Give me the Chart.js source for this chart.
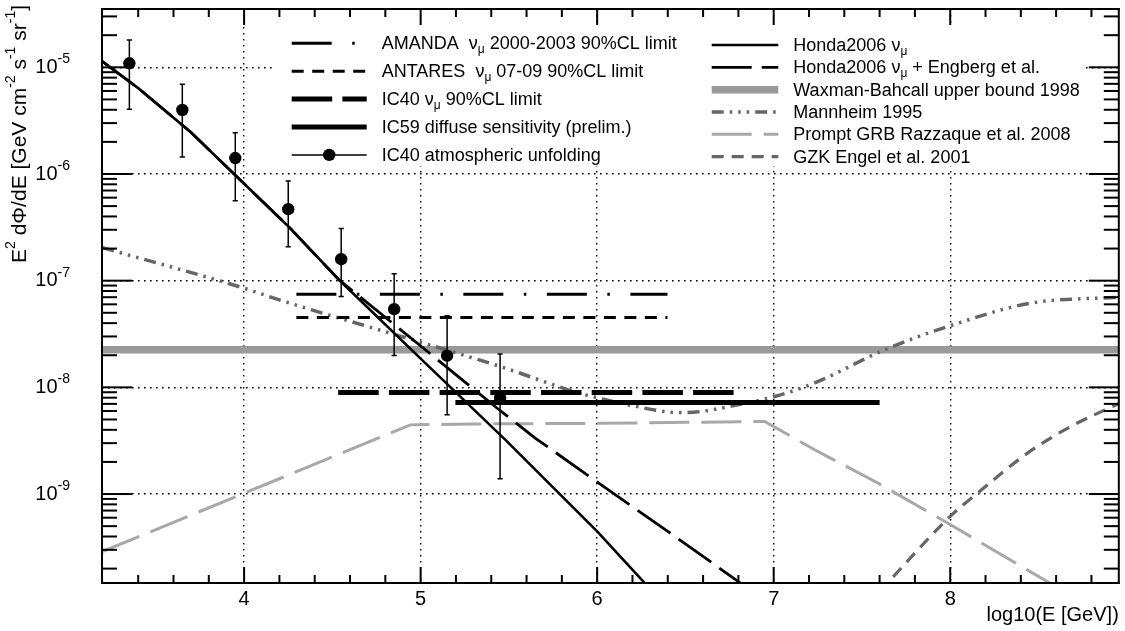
<!DOCTYPE html>
<html>
<head>
<meta charset="utf-8">
<script src="https://cdn.jsdelivr.net/npm/chart.js@4.4.1/dist/chart.umd.min.js"></script>
<style>
  html, body { margin: 0; padding: 0; background: #fff; }
  #wrap { width: 1125px; height: 631px; position: relative; }
</style>
</head>
<body>
<div id="wrap"><canvas id="c"></canvas></div>
<script>
// ---- axis ranges (log10 E on x, E^2 dPhi/dE on y) ----
const xRange = [3.195, 8.955];
const yRange = [1.466e-10, 3.52e-5];
const xTickValues = Array.from({ length: 29 }, (_, i) => (16 + i) / 5); // 3.2 ... 8.8
const yDecadeLabels = [-5, -6, -7, -8, -9];
const ySignificands = [1, 2, 3, 4, 5, 6, 7, 8, 9];

// ---- IC40 atmospheric unfolding ----
const unfoldLogE = [3.35, 3.65, 3.95, 4.25, 4.55, 4.85, 5.15, 5.45];
const unfoldFlux = [1.09e-5, 3.98e-6, 1.41e-6, 4.68e-7, 1.59e-7, 5.41e-8, 1.98e-8, 7.93e-9];
const unfoldHigh = [1.80e-5, 6.93e-6, 2.44e-6, 8.6e-7, 3.08e-7, 1.16e-7, 4.68e-8, 2.05e-8];
const unfoldLow  = [4.05e-6, 1.44e-6, 5.6e-7, 2.08e-7, 7.1e-8, 1.99e-8, 5.53e-9, 1.39e-9];

// ---- atmospheric models ----
const hondaLogE = [3.197, 3.4, 3.7, 3.943, 4.25, 4.537, 5.0, 5.479, 6.0, 6.3];
const hondaFlux = [1.135e-5, 6.38e-6, 2.45e-6, 1.0e-6, 3.24e-7, 1.02e-7, 1.86e-8, 3.24e-9, 4.47e-10, 1.29e-10];
const engbergLogE = [3.197, 3.4, 3.7, 3.943, 4.25, 4.537, 5.027, 5.432, 5.649, 6.007, 6.4, 6.798, 6.85];
const engbergFlux = [1.135e-5, 6.38e-6, 2.45e-6, 1.0e-6, 3.24e-7, 1.02e-7, 2.25e-8, 6.40e-9, 3.35e-9, 1.27e-9, 4.47e-10, 1.52e-10, 1.32e-10];

// ---- astrophysical models ----
const waxmanLogE = [3.0, 9.2];
const waxmanFlux = [2.25e-8, 2.25e-8];
const mannheimLogE = [3.197, 4.0, 4.2, 5.0, 5.45, 5.9, 6.007, 6.194, 6.459, 6.572, 6.798, 7.006, 7.232, 7.628, 8.0, 8.455, 8.96];
const mannheimFlux = [2.04e-7, 8.5e-8, 6.6e-8, 2.65e-8, 1.57e-8, 8.8e-9, 7.94e-9, 6.76e-9, 5.81e-9, 5.9e-9, 6.87e-9, 8.2e-9, 1.1e-8, 2.25e-8, 3.78e-8, 6.15e-8, 7.0e-8];
const grbLogE = [3.197, 4.942, 5.289, 6.007, 6.949, 7.232, 7.59, 7.985, 8.532, 8.6];
const grbFlux = [2.89e-10, 4.45e-9, 4.54e-9, 4.60e-9, 4.79e-9, 2.60e-9, 1.27e-9, 5.35e-10, 1.57e-10, 1.35e-10];
const gzkLogE = [7.6, 8.0, 8.155, 8.438, 8.683, 8.96];
const gzkFlux = [1.22e-10, 6.17e-10, 1.02e-9, 2.42e-9, 4.30e-9, 7.11e-9];

// ---- flux limits / sensitivities: [logE from, logE to] and level ----
const amandaRange = [4.296, 6.398];  const amandaLimit = 7.48e-8;
const antaresRange = [4.296, 6.398]; const antaresLimit = 4.51e-8;
const ic40Range = [4.533, 6.83];     const ic40Limit = 8.95e-9;
const ic59Range = [5.197, 7.6];      const ic59Sens = 7.2e-9;

const FONT = '"Liberation Sans", Arial, Helvetica, sans-serif';

const pts = (xs, ys) => xs.map((x, i) => ({ x, y: ys[i] }));
const flat = (r, v) => [{ x: r[0], y: v }, { x: r[1], y: v }];
const isDecade = v => Math.abs(Math.log10(v) - Math.round(Math.log10(v))) < 1e-6;
const isInt = v => Math.abs(v - Math.round(v)) < 1e-6;

const yTickValues = [];
for (let e = -11; e <= -4; e++) {
  ySignificands.forEach(s => {
    const v = s * Math.pow(10, e);
    if (v > yRange[0] && v < yRange[1]) yTickValues.push(v);
  });
}

// error bars: one segment per point, separated by gaps
const errorBarData = [];
unfoldLogE.forEach((x, i) => {
  errorBarData.push({ x, y: unfoldLow[i] }, { x, y: unfoldHigh[i] }, { x, y: null });
});

const line = (label, data, color, width, dash, order, extra) => Object.assign({
  label, data, showLine: true, borderColor: color, backgroundColor: color,
  borderWidth: width, borderDash: dash, pointRadius: 0, order, clip: 0, spanGaps: false
}, extra || {});

const styles = {
  amanda:   { color: '#000', width: 3,   dash: [40, 20.5, 2.5, 20.5] },
  antares:  { color: '#000', width: 3,   dash: [12, 8.5] },
  ic40:     { color: '#000', width: 5,   dash: [40.5, 10.2] },
  ic59:     { color: '#000', width: 5,   dash: [] },
  unfold:   { color: '#000', width: 1.5, dash: [] },
  honda:    { color: '#000', width: 2.6, dash: [] },
  engberg:  { color: '#000', width: 2.8, dash: [40, 10] },
  waxman:   { color: '#999', width: 7.5, dash: [] },
  mannheim: { color: '#666', width: 3.5, dash: [12, 6, 2.5, 6, 2.5, 6, 2.5, 6] },
  grb:      { color: '#a8a8a8', width: 3, dash: [40, 12] },
  gzk:      { color: '#666', width: 3.2, dash: [12, 8] }
};

const datasets = [
  { label: 'IC40 atmospheric unfolding', data: pts(unfoldLogE, unfoldFlux), showLine: false,
    pointRadius: 6.2, pointStyle: 'circle', pointBackgroundColor: '#000', pointBorderColor: '#000',
    pointBorderWidth: 0, order: 0, clip: 0 },
  line('IC40 unfolding errors', errorBarData, '#000', 1.5, [], 1,
    { pointRadius: 2.6, pointStyle: 'line', pointBorderColor: '#000', pointBorderWidth: 1.5 }),
  line('Honda2006', pts(hondaLogE, hondaFlux), styles.honda.color, styles.honda.width, styles.honda.dash, 2),
  line('Honda2006 + Engberg', pts(engbergLogE, engbergFlux), styles.engberg.color, styles.engberg.width, styles.engberg.dash, 3),
  line('IC59', flat(ic59Range, ic59Sens), styles.ic59.color, styles.ic59.width, styles.ic59.dash, 4),
  line('IC40', flat(ic40Range, ic40Limit), styles.ic40.color, styles.ic40.width, styles.ic40.dash, 5),
  line('ANTARES', flat(antaresRange, antaresLimit), styles.antares.color, styles.antares.width, styles.antares.dash, 6),
  line('AMANDA', flat(amandaRange, amandaLimit), styles.amanda.color, styles.amanda.width, styles.amanda.dash, 7),
  line('Mannheim 1995', pts(mannheimLogE, mannheimFlux), styles.mannheim.color, styles.mannheim.width, styles.mannheim.dash, 8,
    { cubicInterpolationMode: 'monotone' }),
  line('GZK', pts(gzkLogE, gzkFlux), styles.gzk.color, styles.gzk.width, styles.gzk.dash, 9,
    { cubicInterpolationMode: 'monotone' }),
  line('GRB', pts(grbLogE, grbFlux), styles.grb.color, styles.grb.width, styles.grb.dash, 10),
  line('Waxman-Bahcall', pts(waxmanLogE, waxmanFlux), styles.waxman.color, styles.waxman.width, styles.waxman.dash, 11)
];

// text with _{sub} and ^{sup} pieces
function richText(ctx, str, x, y, size, align) {
  const parts = [];
  const re = /([_^])\{([^}]*)\}/g;
  let last = 0, m;
  while ((m = re.exec(str))) {
    if (m.index > last) parts.push({ t: str.slice(last, m.index), k: 0 });
    parts.push({ t: m[2], k: m[1] === '^' ? 1 : -1 });
    last = re.lastIndex;
  }
  if (last < str.length) parts.push({ t: str.slice(last), k: 0 });
  const small = Math.round(size * 0.68);
  const fontOf = p => `${p.k ? small : size}px ${FONT}`;
  let w = 0;
  parts.forEach(p => { ctx.font = fontOf(p); p.w = ctx.measureText(p.t).width; w += p.w; });
  let cx = align === 'right' ? x - w : align === 'center' ? x - w / 2 : x;
  ctx.textAlign = 'left';
  ctx.textBaseline = 'middle';
  parts.forEach(p => {
    ctx.font = fontOf(p);
    const dy = p.k === 1 ? -size * 0.4 : p.k === -1 ? size * 0.3 : 0;
    ctx.fillText(p.t, cx, y + dy);
    cx += p.w;
  });
  return w;
}

const legendLeft = [
  { text: 'AMANDA  \u03bd_{\u03bc} 2000-2003 90%CL limit', s: styles.amanda },
  { text: 'ANTARES  \u03bd_{\u03bc} 07-09 90%CL limit', s: styles.antares },
  { text: 'IC40 \u03bd_{\u03bc} 90%CL limit', s: styles.ic40 },
  { text: 'IC59 diffuse sensitivity (prelim.)', s: styles.ic59 },
  { text: 'IC40 atmospheric unfolding', s: styles.unfold, marker: true }
];
const legendRight = [
  { text: 'Honda2006 \u03bd_{\u03bc}', s: styles.honda },
  { text: 'Honda2006 \u03bd_{\u03bc} + Engberg et al.', s: styles.engberg },
  { text: 'Waxman-Bahcall upper bound 1998', s: styles.waxman },
  { text: 'Mannheim 1995', s: styles.mannheim },
  { text: 'Prompt GRB Razzaque et al. 2008', s: styles.grb },
  { text: 'GZK Engel et al. 2001', s: styles.gzk }
];

function drawLegend(ctx, items, box, sx0, sx1, tx, y0, dy) {
  ctx.save();
  ctx.fillStyle = '#fff';
  ctx.fillRect(box[0], box[1], box[2] - box[0], box[3] - box[1]);
  items.forEach((it, i) => {
    const y = y0 + i * dy;
    ctx.strokeStyle = it.s.color;
    ctx.lineWidth = it.s.width;
    ctx.setLineDash(it.s.dash);
    ctx.lineCap = 'butt';
    ctx.beginPath();
    ctx.moveTo(sx0, y); ctx.lineTo(sx1, y);
    ctx.stroke();
    ctx.setLineDash([]);
    if (it.marker) {
      ctx.fillStyle = '#000';
      ctx.beginPath();
      ctx.arc((sx0 + sx1) / 2, y, 6.2, 0, Math.PI * 2);
      ctx.fill();
    }
    ctx.fillStyle = '#000';
    richText(ctx, it.text, tx, y + 1, 18, 'left');
  });
  ctx.restore();
}

const decorations = {
  id: 'decorations',
  afterDatasetsDraw(chart) {
    const { ctx } = chart;
    drawLegend(ctx, legendLeft, [275, 27, 702, 166], 291.7, 366.7, 381.7, 43.3, 27.9);
    drawLegend(ctx, legendRight, [702, 27, 1083, 166], 711.7, 778.3, 793.3, 45, 22.33);
  },
  afterDraw(chart) {
    const { ctx, chartArea: a, scales } = chart;
    ctx.save();
    // inward tick marks on all four sides
    ctx.fillStyle = '#000';
    yTickValues.forEach(v => {
      const py = scales.y.getPixelForValue(v);
      const len = isDecade(v) ? 30 : 15;
      ctx.fillRect(a.left, py - 1, len, 2);
      ctx.fillRect(a.right - len, py - 1, len, 2);
    });
    xTickValues.forEach(v => {
      const px = scales.x.getPixelForValue(v);
      if (px < a.left + 2 || px > a.right - 2) return;
      const len = isInt(v) ? 16 : 8;
      ctx.fillRect(px - 1, a.bottom - len, 2, len);
      ctx.fillRect(px - 1, a.top, 2, len);
    });
    // frame
    ctx.fillRect(a.left - 1, a.top - 1, a.right - a.left + 2, 2);
    ctx.fillRect(a.left - 1, a.bottom - 1, a.right - a.left + 2, 2);
    ctx.fillRect(a.left - 1, a.top - 1, 2, a.bottom - a.top + 2);
    ctx.fillRect(a.right - 1, a.top - 1, 2, a.bottom - a.top + 2);
    // decade labels on the y axis
    yDecadeLabels.forEach(e => {
      const py = scales.y.getPixelForValue(Math.pow(10, e));
      richText(ctx, '10^{' + e + '}', 70, py, 20, 'right');
    });
    // axis titles
    richText(ctx, 'log10(E [GeV])', a.right, 615, 20, 'right');
    ctx.translate(20, 5);
    ctx.rotate(-Math.PI / 2);
    richText(ctx, 'E^{2} d\u03a6/dE [GeV cm^{-2} s^{-1} sr^{-1}]', 0, 0, 21, 'right');
    ctx.restore();
  }
};

const gridColor = ctx => (ctx.tick && (ctx.scale.axis === 'x' ? isInt(ctx.tick.value) : isDecade(ctx.tick.value))) ? '#000' : 'rgba(0,0,0,0)';

new Chart(document.getElementById('c'), {
  type: 'scatter',
  data: { datasets },
  options: {
    responsive: true,
    maintainAspectRatio: false,
    devicePixelRatio: 1,
    animation: false,
    events: [],
    layout: { padding: { top: 9, right: 3, left: 0, bottom: 0 } },
    plugins: { legend: { display: false }, tooltip: { enabled: false }, title: { display: false } },
    scales: {
      x: {
        type: 'linear', min: xRange[0], max: xRange[1],
        afterBuildTicks: s => { s.ticks = xTickValues.map(v => ({ value: v })); },
        afterFit: s => { s.height = 48; s.paddingLeft = 0; s.paddingRight = 0; },
        ticks: {
          autoSkip: false, maxRotation: 0, minRotation: 0, padding: 4, color: '#000',
          font: { family: FONT, size: 20 },
          callback: v => (isInt(v) ? String(Math.round(v)) : '')
        },
        grid: { drawTicks: false, color: gridColor, lineWidth: 1.4 },
        border: { display: false, dash: [1.6, 4.4] }
      },
      y: {
        type: 'logarithmic', min: yRange[0], max: yRange[1],
        afterBuildTicks: s => { s.ticks = yTickValues.map(v => ({ value: v, major: isDecade(v) })); },
        afterFit: s => { s.width = 102; s.paddingTop = 0; s.paddingBottom = 0; },
        ticks: { display: false },
        grid: { drawTicks: false, color: gridColor, lineWidth: 1.4 },
        border: { display: false, dash: [1.6, 4.4] }
      }
    }
  },
  plugins: [decorations]
});
</script>
</body>
</html>
